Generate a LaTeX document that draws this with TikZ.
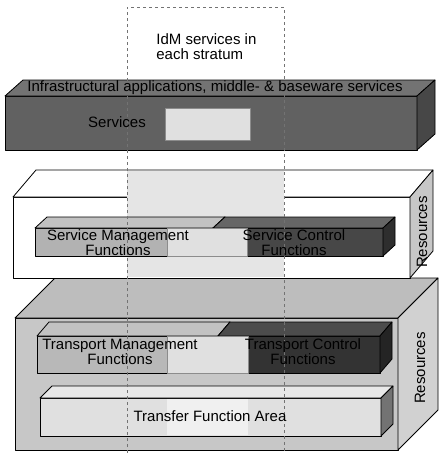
\documentclass[tikz,border=0pt]{standalone}
\usepackage{fontspec}
\setmainfont{Liberation Sans}

% pave : x1,y1 (avant haut gauche), x2,y2 (avant bas droite), dx,dy (profondeur), avant, dessus, cote
\newcommand{\pave}[9]{%
  \filldraw[fill=#7] (#1,#2) rectangle (#3,#4);
  \filldraw[fill=#8] (#1,#2) -- (#1+#5,#2+#6) -- (#3+#5,#2+#6) -- (#3,#2) -- cycle;
  \filldraw[fill=#9] (#3,#2) -- (#3+#5,#2+#6) -- (#3+#5,#4+#6) -- (#3,#4) -- cycle;
}

\tikzset{
  lbl/.style={font=\fontsize{15}{15}\selectfont, align=center, inner sep=0pt},
  tache/.style={fill=black!12, draw=black!45, line width=0.3pt},
}

\begin{document}
\begin{tikzpicture}[x=1pt, y=-1pt, line width=0.8pt, line join=round]
    \useasboundingbox (0,0) rectangle (441,453);
    \pave{15}{318}{398}{450}{40}{-40}{black!22}{black!26}{black!18} %ressources transport
    \pave{13}{197}{410}{278}{23}{-27}{white}{white}{black!22} %ressources service
    \fill[black!10] (127,171) rectangle (284,277); %colonne IdM
    \pave{5}{96}{417}{150}{18}{-16}{black!62}{black!55}{black!72} %services
    \pave{35}{228}{213}{256}{12}{-11}{black!30}{black!24}{black!40} %gestion service
    \pave{213}{228}{383}{256}{12}{-11}{black!72}{black!60}{black!82} %controle service
    \pave{37}{336}{218}{373}{12}{-14}{black!28}{black!24}{black!45} %gestion transport
    \pave{218}{336}{380}{373}{12}{-14}{black!80}{black!70}{black!86} %controle transport
    \pave{40}{398}{381}{436}{12}{-12}{black!12}{black!9}{black!55} %transfert
    \draw[tache] (165,108) rectangle (250,140);
    \draw[tache] (167,228) rectangle (247,256);
    \draw[tache] (167,336) rectangle (248,373);
    \fill[black!6] (167,399) rectangle (248,435);
    \draw[dashed, black!55, line width=0.5pt] (127,453) -- (127,7) -- (284,7) -- (284,453); %IdM
    \node[lbl, align=left, anchor=west] (idm) at (156,47) {IdM services in\\each stratum};
    \node[lbl] (infra) at (215,88) {Infrastructural applications, middle- \& baseware services};
    \node[lbl] (serv) at (117,122) {Services};
    \node[lbl] (sgest) at (118,243) {Service Management\\Functions};
    \node[lbl] (sctrl) at (294,243) {Service Control\\Functions};
    \node[lbl, rotate=90] (sres) at (422,232) {Resources};
    \node[lbl] (tgest) at (120,352) {Transport Management\\Functions};
    \node[lbl] (tctrl) at (303,352) {Transport Control\\Functions};
    \node[lbl] (tfa) at (210,416) {Transfer Function Area};
    \node[lbl, rotate=90] (tres) at (420,368) {Resources};
  \end{tikzpicture}
\end{document}
